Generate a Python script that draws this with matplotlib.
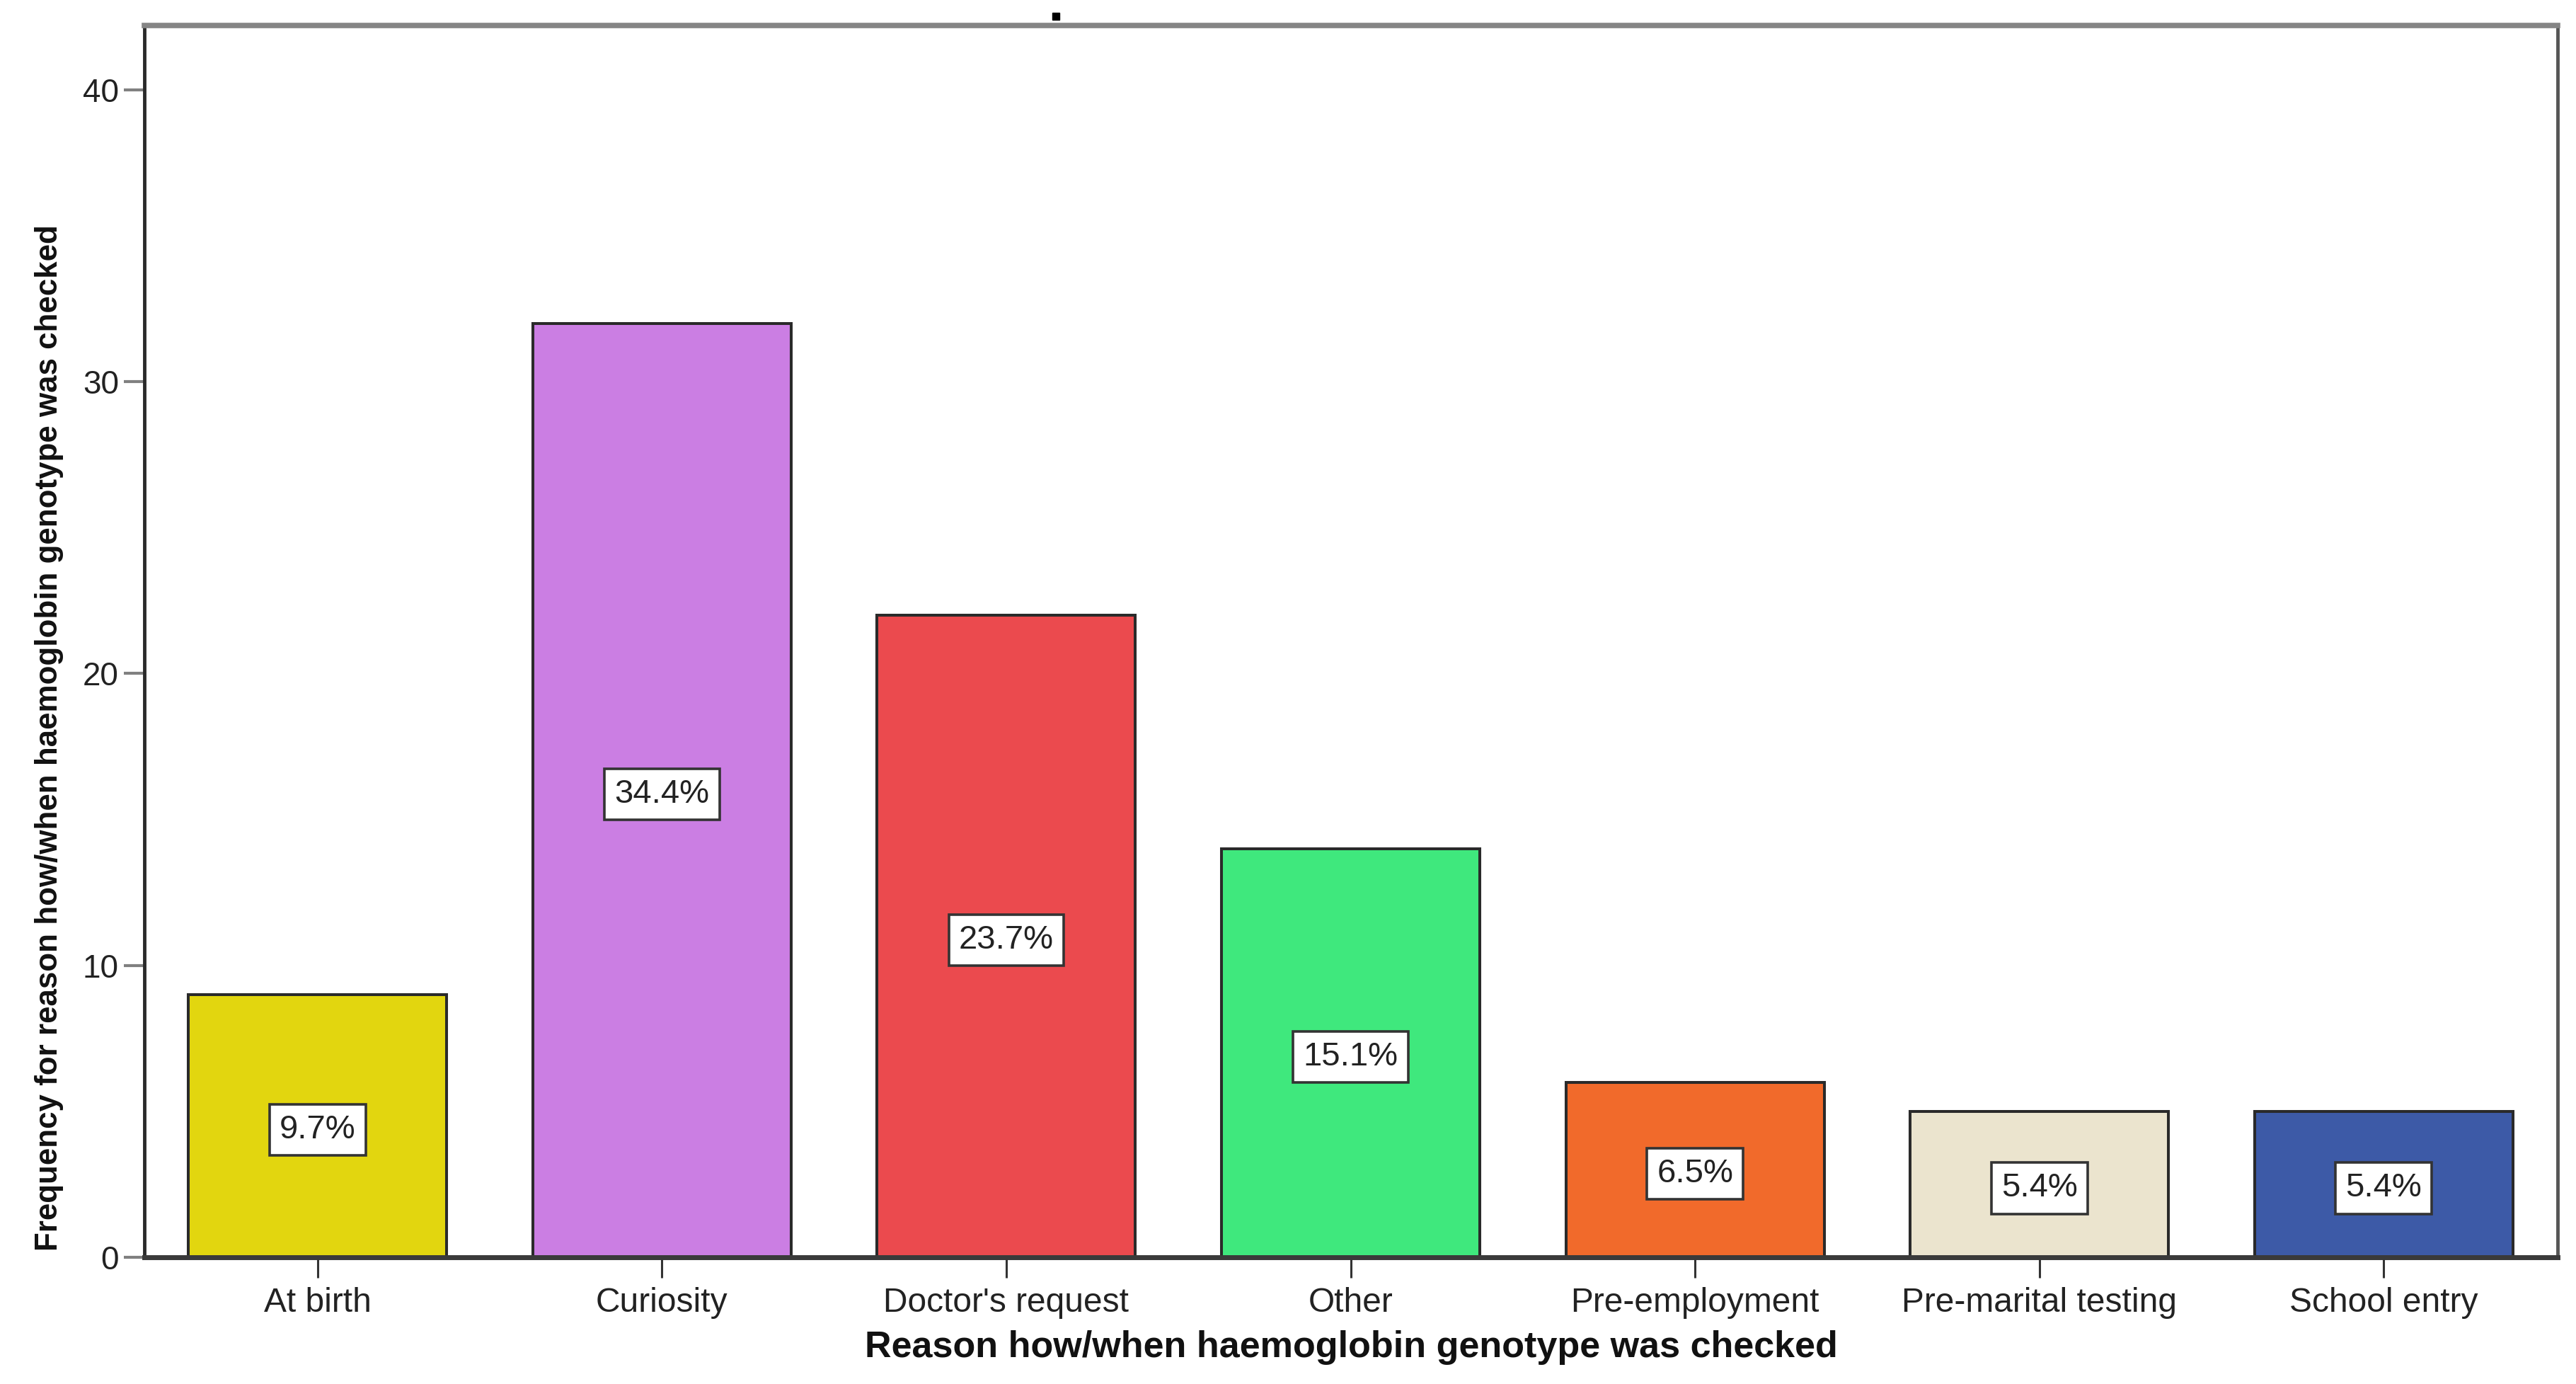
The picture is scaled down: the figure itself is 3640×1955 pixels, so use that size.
import matplotlib
matplotlib.use("Agg")
import matplotlib.pyplot as plt
from matplotlib.lines import Line2D

categories = ["At birth", "Curiosity", "Doctor's request", "Other",
              "Pre-employment", "Pre-marital testing", "School entry"]
counts = [9, 32, 22, 14, 6, 5, 5]
percent_labels = ["9.7%", "34.4%", "23.7%", "15.1%", "6.5%", "5.4%", "5.4%"]
colors = ["#E2D60F", "#CB7EE3", "#EB4A4E", "#3FE87D", "#F16A2B", "#EBE4CE", "#3D5AA7"]
y_ticks = [0, 10, 20, 30, 40]
x_title = "Reason how/when haemoglobin genotype was checked"
y_title = "Frequency for reason how/when haemoglobin genotype was checked"

REG = ["Liberation Sans", "DejaVu Sans"]

W, H = 3640, 1955
fig = plt.figure(figsize=(W / 100, H / 100), dpi=100)
fig.patch.set_facecolor("white")
ax = fig.add_axes([204 / W, (H - 1776) / H, (3614 - 204) / W, (1776 - 36) / H])

x = list(range(len(categories)))
ax.bar(x, counts, width=0.75, color=colors, edgecolor="#2A2A2A", linewidth=2.9, zorder=2)

for xi, c, lab in zip(x, counts, percent_labels):
    ax.annotate(lab, xy=(xi, c / 2), xytext=(0, -4), textcoords="offset points",
                ha="center", va="center", fontsize=34, family=REG,
                color="#222222", zorder=4,
                bbox=dict(boxstyle="square,pad=0.3", facecolor="white",
                          edgecolor="#333333", linewidth=2.6))

ax.set_xlim(-0.503, 6.505)
ax.set_ylim(0, 42.2)
ax.set_yticks(y_ticks)
ax.set_yticklabels([str(t) for t in y_ticks], family=REG, fontsize=33, color="#222222")
ax.set_xticks(x)
ax.set_xticklabels(categories, family=REG, fontsize=34.5, color="#222222")

ax.tick_params(axis="y", direction="out", length=21, width=3, color="#808080", pad=5)
ax.tick_params(axis="x", direction="out", length=21, width=2.2, color="#333333", pad=9)

ax.spines["top"].set_color("#858585")
ax.spines["top"].set_linewidth(5.5)
ax.spines["left"].set_color("#2A2A2A")
ax.spines["left"].set_linewidth(3.5)
ax.spines["bottom"].set_color("#3A3A3A")
ax.spines["bottom"].set_linewidth(5)
ax.spines["right"].set_color("#555555")
ax.spines["right"].set_linewidth(3.5)

fig.text(1909 / W, 52 / H, x_title, ha="center", va="center", fontsize=37.5,
         fontweight="bold", family=REG, color="#111111")
fig.text(70 / W, 1 - 1042 / H, y_title, ha="center", va="center", rotation=90,
         fontsize=31.6, fontweight="bold", family=REG, color="#111111")
fig.add_artist(Line2D([1492 / W], [1 - 23 / H], transform=fig.transFigure,
                      marker="s", markersize=7.5, color="black", linestyle="none"))

fig.savefig("out.png", dpi=100, facecolor="white")
